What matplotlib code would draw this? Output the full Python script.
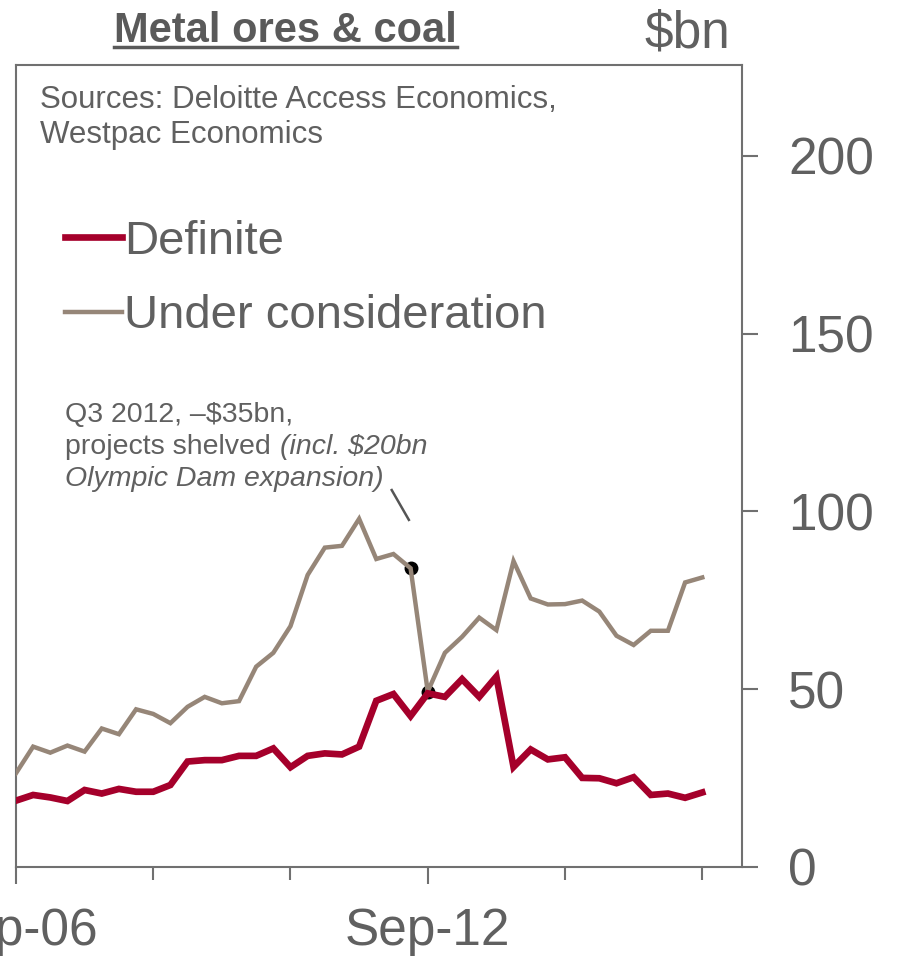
import numpy as np
import pandas as pd
import matplotlib
matplotlib.use("Agg")
import matplotlib.pyplot as plt
from matplotlib.lines import Line2D

plt.rcParams['font.family'] = ['Liberation Sans', 'DejaVu Sans']

# Quarterly pipeline, Sep-06 to Sep-16 ($bn)
quarters = pd.date_range('2006-09-30', periods=41, freq='QE')
definite = [18.6, 20.2, 19.5, 18.5, 21.6, 20.6, 21.9, 21.1, 21.1, 23.0,
            29.6, 30.0, 30.0, 31.2, 31.2, 33.3, 28.0, 31.2, 31.9, 31.6,
            33.8, 46.7, 48.6, 42.4, 48.8, 47.8, 52.8, 47.8, 53.5, 28.1,
            33.0, 30.2, 30.8, 25.0, 24.9, 23.5, 25.2, 20.2, 20.6, 19.4, 20.9]
under_consideration = [26.3, 33.8, 32.1, 34.1, 32.4, 38.9, 37.3, 44.3, 43.0, 40.4,
                       45.0, 47.8, 46.0, 46.6, 56.3, 60.2, 67.7, 82.1, 89.8, 90.3,
                       97.9, 86.6, 88.0, 84.0, 49.3, 60.2, 64.7, 70.1, 66.6, 86.0,
                       75.5, 73.8, 73.9, 74.9, 71.8, 65.0, 62.4, 66.4, 66.4, 80.0, 81.4]
shelved_idx = [23, 24]          # Q2 -> Q3 2012 drop
major_ticks = [0, 24]
minor_ticks = [8, 16, 32, 40]
leader_x = [21.9, 22.9]         # short annotation leader
leader_y = [106.0, 97.6]

RED = '#A5002B'
TAUPE = '#968678'
TXT = '#606060'
SPINE = '#707070'

x = np.arange(len(quarters))

fig = plt.figure(figsize=(8.97, 9.59), dpi=100)
ax = fig.add_axes([0.0178, 0.0962, 0.8091, 0.836])

ax.plot(x[shelved_idx], np.array(under_consideration)[shelved_idx], 'o',
        color='black', markersize=9, zorder=2)
ax.plot(x, under_consideration, color=TAUPE, lw=3.2, zorder=3,
        label='Under consideration', solid_joinstyle='miter')
ax.plot(x, definite, color=RED, lw=4.8, zorder=4, label='Definite',
        solid_joinstyle='miter')
ax.plot(leader_x, leader_y, color='#555555', lw=1.8)

ax.set_xlim(0, 42.3)
ax.set_ylim(0, 225.6)

ax.set_xticks(major_ticks)
ax.set_xticklabels([quarters[i].strftime('%b-%y') for i in major_ticks])
ax.set_xticks(minor_ticks, minor=True)
ax.yaxis.tick_right()
ax.set_yticks([0, 50, 100, 150, 200])

ax.tick_params(axis='x', which='major', length=12, width=1.5, color=SPINE,
               labelsize=37, labelcolor=TXT, pad=17)
ax.tick_params(axis='x', which='minor', length=9, width=1.5, color=SPINE)
ax.tick_params(axis='y', length=11.5, width=1.5, color=SPINE,
               labelsize=37, labelcolor=TXT, pad=22)
for s in ax.spines.values():
    s.set_color(SPINE)
    s.set_linewidth(1.5)

# legend
handles = [Line2D([0], [0], color=RED, lw=4.8),
           Line2D([0], [0], color=TAUPE, lw=3.2)]
leg = ax.legend(handles, ['Definite', 'Under consideration'], loc='upper left',
                bbox_to_anchor=(0.0675, 0.807), frameon=False, fontsize=34,
                handlelength=1.2, handletextpad=0.06, borderpad=0,
                borderaxespad=0, labelspacing=0.65)
for t in leg.get_texts():
    t.set_color(TXT)

# sources
ax.text(0.033, 0.975, 'Sources: Deloitte Access Economics,\nWestpac Economics',
        transform=ax.transAxes, ha='left', va='top', fontsize=22.5,
        color=TXT, linespacing=1.22)

# annotation, baselines in figure pixels from top
H = 959.0
fs = 20.5
fig.text(65 / 897, 1 - 421.5 / H, 'Q3 2012, \u2013\\$35bn,', ha='left',
         va='baseline', fontsize=fs, color=TXT)
t2 = fig.text(65 / 897, 1 - 453.5 / H, 'projects shelved', ha='left',
              va='baseline', fontsize=fs, color=TXT)
fig.text(65 / 897, 1 - 486 / H, 'Olympic Dam expansion)', ha='left',
         va='baseline', fontsize=fs, color=TXT, style='italic')
fig.canvas.draw()
ax.annotate('(incl. \\$20bn', xy=(1, 0), xycoords=t2, xytext=(7, 0),
            textcoords='offset points', ha='left', va='bottom',
            fontsize=fs, color=TXT, style='italic', annotation_clip=False)

# title, underlined
title = fig.text(0.318, 0.956, 'Metal ores & coal', ha='center', va='baseline',
                 fontsize=30, fontweight='bold', color='#5A5A5A')
fig.text(0.814, 0.95, '\\$bn', ha='right', va='baseline', fontsize=37, color=TXT)
fig.canvas.draw()
tb = title.get_window_extent()
fx = fig.transFigure.inverted().transform([[tb.x0, 0], [tb.x1, 0]])
fig.add_artist(Line2D([fx[0][0], fx[1][0]], [0.9505, 0.9505],
                      transform=fig.transFigure, color='#5A5A5A', lw=2.5))

fig.savefig('out.png', dpi=100)
